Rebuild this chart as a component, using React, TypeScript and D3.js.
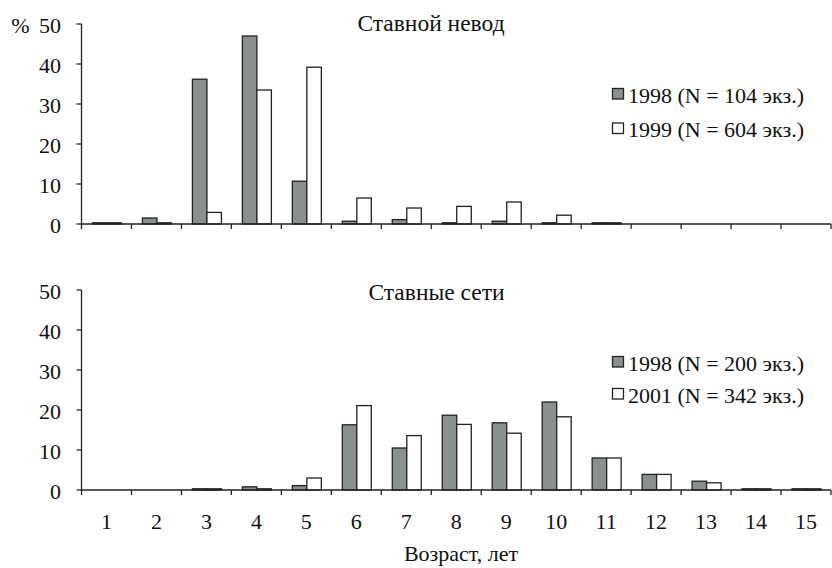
import React from 'react';
import * as d3 from 'd3';

const ages = ['1', '2', '3', '4', '5', '6', '7', '8', '9', '10', '11', '12', '13', '14', '15'];

// Ставной невод
const net1998 = [0.3, 1.5, 36.2, 47, 10.7, 0.7, 1.1, 0.3, 0.7, 0.3, 0.3, 0, 0, 0, 0];
const net1999 = [0.3, 0.3, 2.9, 33.5, 39.2, 6.5, 4.0, 4.4, 5.5, 2.2, 0.3, 0, 0, 0, 0];
// Ставные сети
const gill1998 = [0, 0, 0.3, 0.8, 1.1, 16.3, 10.5, 18.7, 16.8, 22, 8.0, 3.9, 2.2, 0.3, 0.3];
const gill2001 = [0, 0, 0.3, 0.3, 3.0, 21.1, 13.6, 16.4, 14.2, 18.3, 8.0, 3.9, 1.8, 0.3, 0.3];

const yTicks = [0, 10, 20, 30, 40, 50];
const legendTop = ['1998 (N = 104 экз.)', '1999 (N = 604 экз.)'];
const legendBottom = ['1998 (N = 200 экз.)', '2001 (N = 342 экз.)'];

const width = 832;
const height = 568;
const left = 81.5;
const right = 831;
const font = "'Liberation Serif', 'Times New Roman', serif";
const grey = '#8a8f8f';
const ink = '#222';
const fs = 22;

const x = d3.scaleBand().domain(ages).range([left, right]).padding(0);
const barW = 14.5;

const T = (props) => (
  <text fontSize={fs} fill="#111" dominantBaseline="central" style={{ fontFamily: font }} {...props} />
);

const Panel = ({ top, bottom, a, b, title, titleX, titleY, legend, legendY, showLabels }) => {
  const y = d3.scaleLinear().domain([0, 50]).range([bottom, top]);
  return (
    <g>
      <T x={titleX} y={titleY} textAnchor="middle" fontSize={23.5}>{title}</T>
      {ages.map((age, i) => {
        const cx = x(age) + x.bandwidth() / 2 + 0.5;
        return (
          <g key={age}>
            <rect x={cx - barW} y={y(a[i])} width={barW} height={Math.max(0, y(0) - y(a[i]))}
              fill={grey} stroke={ink} strokeWidth={1.3} />
            <rect x={cx} y={y(b[i])} width={barW} height={Math.max(0, y(0) - y(b[i]))}
              fill="#fff" stroke={ink} strokeWidth={1.3} />
          </g>
        );
      })}
      <line x1={left} x2={left} y1={y(50)} y2={y(0)} stroke={ink} strokeWidth={1.3} />
      <line x1={left} x2={right} y1={y(0)} y2={y(0)} stroke={ink} strokeWidth={1.3} />
      {yTicks.map((t) => (
        <g key={t}>
          <line x1={left - 5} x2={left} y1={y(t)} y2={y(t)} stroke={ink} strokeWidth={1.3} />
          <T x={61} y={y(t) + 1} textAnchor="end">{t}</T>
        </g>
      ))}
      {ages.map((age) => (
        <line key={age} x1={x(age)} x2={x(age)} y1={y(0)} y2={y(0) + 5} stroke={ink} strokeWidth={1.3} />
      ))}
      <line x1={right} x2={right} y1={y(0)} y2={y(0) + 5} stroke={ink} strokeWidth={1.3} />
      {showLabels && ages.map((age) => (
        <T key={age} x={x(age) + x.bandwidth() / 2} y={521} textAnchor="middle">{age}</T>
      ))}
      {legend.map((l, i) => (
        <g key={l}>
          <rect x={612.5} y={legendY[i] - 5.5} width={11} height={10.5} fill={i === 0 ? grey : '#fff'}
            stroke={ink} strokeWidth={1.3} />
          <T x={628} y={legendY[i] + 1}>{l}</T>
        </g>
      ))}
    </g>
  );
};

export default function App() {
  return (
    <svg width={width} height={height} style={{ position: 'absolute', left: 0, top: 0, background: '#fff' }}>
      <T x={20.5} y={25} textAnchor="middle">%</T>
      <Panel top={24} bottom={224} a={net1998} b={net1999} title="Ставной невод" titleX={431} titleY={23}
        legend={legendTop} legendY={[94, 128.5]} showLabels={false} />
      <Panel top={290} bottom={490} a={gill1998} b={gill2001} title="Ставные сети" titleX={436.5} titleY={292}
        legend={legendBottom} legendY={[362, 394]} showLabels={true} />
      <T x={461} y={553} textAnchor="middle">Возраст, лет</T>
    </svg>
  );
}
